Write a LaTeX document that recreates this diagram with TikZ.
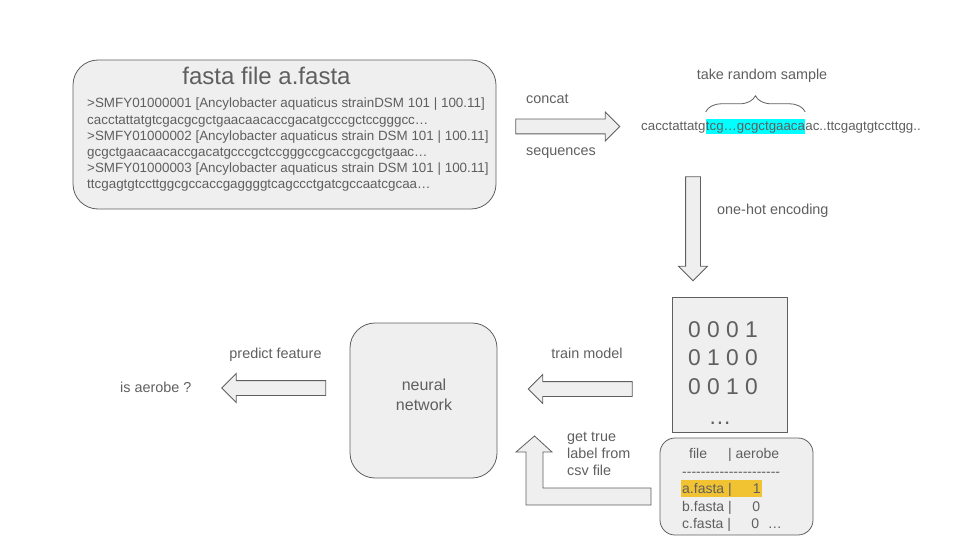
\documentclass[tikz,border=0pt]{standalone}
\usepackage{fontspec}
\setmainfont{Liberation Sans}
\usepackage{tikz}
\usetikzlibrary{positioning,shapes.arrows,decorations.pathreplacing}

\definecolor{inkgray}{HTML}{5F5F5F}
\definecolor{boxfill}{HTML}{EFEFEF}
\definecolor{samplecyan}{HTML}{00FFFF}
\definecolor{rowgold}{HTML}{F1C232}

\tikzset{
  box/.style={draw=inkgray, fill=boxfill, line width=0.8pt},
  blockarrow/.style={single arrow, draw=inkgray, fill=boxfill, line width=0.8pt,
    minimum height=104pt, inner xsep=0pt, inner ysep=7pt,
    single arrow head extend=7pt, single arrow head indent=0pt},
  lbl/.style={text=inkgray, inner sep=0pt, font=\fontsize{14.4}{17}\selectfont},
  seq/.style={text=inkgray, inner sep=0pt, font=\fontsize{13.3}{16}\selectfont},
  bits/.style={text=inkgray, inner sep=0pt, font=\fontsize{22.8}{28}\selectfont},
  csvtxt/.style={text=inkgray, inner sep=0pt, font=\fontsize{14}{17}\selectfont},
}

\begin{document}
\begin{tikzpicture}[x=1pt,y=-1pt]
\useasboundingbox (0,0) rectangle (960,540);

% fasta file
\node[box, rounded corners=25pt, minimum width=423pt, minimum height=149pt] (fasta) at (284.5,134.5) {};
\node[text=inkgray, inner sep=0pt, font=\fontsize{24}{28}\selectfont, anchor=base] (title) at (266.5,85) {fasta file a.fasta};
\node[seq, font=\fontsize{13.4}{16.2}\selectfont, align=left, anchor=north west] (records) at (87,98) {%
>SMFY01000001 [Ancylobacter aquaticus strainDSM 101 | 100.11]\\
cacctattatgtcgacgcgctgaacaacaccgacatgcccgctccgggcc…\\
>SMFY01000002 [Ancylobacter aquaticus strain DSM 101 | 100.11]\\
gcgctgaacaacaccgacatgcccgctccgggccgcaccgcgctgaac…\\
>SMFY01000003 [Ancylobacter aquaticus strain DSM 101 | 100.11]\\
ttcgagtgtccttggcgccaccgaggggtcagccctgatcgccaatcgcaa…};

% concat
\node[blockarrow] (concatarrow) at (564,126.5) {};
\node[lbl, anchor=base west] (concatlbl) at (526,104) {concat};
\node[lbl, anchor=base west] (seqlbl) at (526,155.7) {sequences};

% sampled sequence
\node[seq, anchor=base west] (seqhead) at (641,131) {cacctattatg};
\node[seq, anchor=base west, fill=samplecyan, text height=12pt, text depth=3pt] (sample) at (seqhead.base east) {tcg…gcgctgaaca};
\node[seq, anchor=base west] (seqtail) at (sample.base east) {ac..ttcgagtgtccttgg..};
\draw[inkgray, line width=0.8pt, decorate, decoration={brace, amplitude=16pt, raise=7pt}]
  (sample.north west) -- (sample.north east);
\node[lbl, anchor=base] (samplelbl) at (762,80) {take random sample};

% encoding
\node[blockarrow, shape border rotate=270, inner xsep=7pt, inner ysep=0pt] (encarrow) at (693,225) {};
\node[lbl, anchor=base west] (enclbl) at (717,214) {one-hot encoding};

\node[box, minimum width=115pt, minimum height=135pt] (onehot) at (729.5,364.5) {};
\node[bits, anchor=base west] (row1) at (688,337) {0 0 0 1};
\node[bits, anchor=base west] (row2) at (688,365.5) {0 1 0 0};
\node[bits, anchor=base west] (row3) at (688,394) {0 0 1 0};
\node[bits, anchor=base] (rowdots) at (720,424) {…};

% csv labels
\node[box, rounded corners=15pt, minimum width=153pt, minimum height=97pt] (csv) at (736.5,486.5) {};
\node[csvtxt, anchor=base west] (csvhead) at (689,458) {file\hspace*{21pt}| aerobe};
\node[csvtxt, anchor=base west] (csvrule) at (682,476) {\foreach \i in {1,...,21}{-\kern0pt}};
\node[csvtxt, anchor=base west, fill=rowgold, inner xsep=1pt, text height=13pt, text depth=4pt] (csva) at (681,493) {a.fasta |\hspace*{21pt}1};
\node[csvtxt, anchor=base west] (csvb) at (682,511) {b.fasta |\hspace*{20.5pt}0};
\node[csvtxt, anchor=base west] (csvc) at (682,528) {c.fasta |\hspace*{20.5pt}0\hspace*{8.6pt}…};

% true label arrow
\draw[box] (651,488) -- (543,488) -- (543,452) -- (552,452) -- (534.5,436)
  -- (516,452) -- (526,452) -- (526,505) -- (651,505) -- cycle;
\node[lbl, anchor=base west] (truelbl1) at (567,441.7) {get true};
\node[lbl, anchor=base west] (truelbl2) at (567,458.7) {label from};
\node[lbl, anchor=base west] (truelbl3) at (567,475.7) {csv file};

% training
\node[blockarrow, shape border rotate=180] (trainarrow) at (584,389) {};
\node[lbl, anchor=base] (trainlbl) at (587,358) {train model};

\node[box, rounded corners=25pt, minimum width=147pt, minimum height=155pt] (nn) at (423.5,400.5) {};
\node[text=inkgray, inner sep=0pt, font=\fontsize{16}{20}\selectfont, align=center] (nnlbl) at (424,395) {neural\\network};

% prediction
\node[blockarrow, shape border rotate=180] (predictarrow) at (277.5,388) {};
\node[lbl, anchor=base] (predictlbl) at (275.5,358) {predict feature};
\node[lbl, anchor=base west] (answer) at (120,392) {is aerobe ?};
\end{tikzpicture}
\end{document}
